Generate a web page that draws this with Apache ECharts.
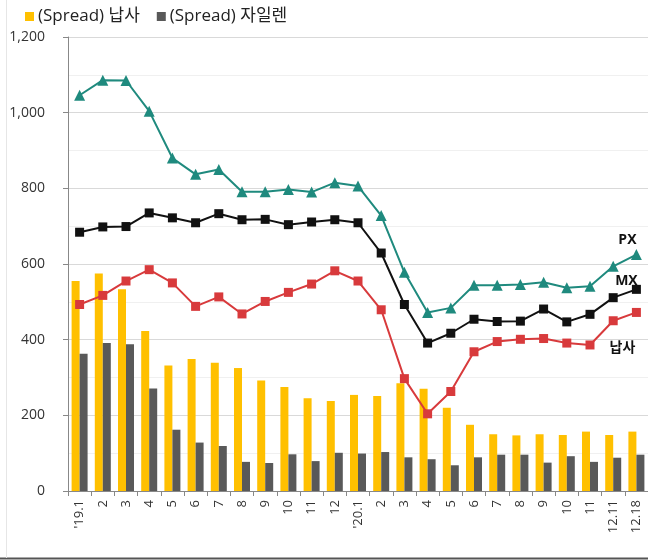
<!DOCTYPE html>
<html>
<head>
<meta charset="utf-8">
<style>html,body{margin:0;padding:0;background:#fff}#c{width:648px;height:560px}</style>
<script src="https://cdn.jsdelivr.net/npm/echarts@6/dist/echarts.min.js"></script>
</head>
<body>
<div id="c"></div>
<script>
const categories = ["'19.1","2","3","4","5","6","7","8","9","10","11","12","'20.1","2","3","4","5","6","7","8","9","10","11","12.11","12.18"];
const spreadNaphtha = [555,575,533,423,332,349,339,325,292,275,245,238,254,251,285,270,220,175,150,147,150,148,157,148,157];
const spreadXylene = [363,391,388,271,162,128,119,77,74,97,79,101,99,103,89,84,68,89,96,96,75,92,77,88,96];
const px = [1046,1086,1085,1004,880,837,850,791,791,797,790,815,806,728,578,472,484,544,544,546,552,537,541,594,625];
const mx = [684,698,699,735,722,709,733,717,718,704,711,717,709,629,493,391,417,454,448,449,481,447,467,511,533];
const naphtha = [493,517,555,585,550,488,513,468,501,525,547,582,555,479,297,204,263,368,395,401,403,391,386,450,472];
const yTicks = [0,200,400,600,800,1000,1200];
const seriesNames = ['(Spread) 납사','(Spread) 자일렌','PX','MX','납사'];

const font = '"Open Sans","Noto Sans CJK KR",sans-serif';
function withEndLabel(arr, text, pos, offset) {
  return arr.map((v, i) => i === arr.length - 1 ? {
    value: v,
    label: {show: true, formatter: text, position: pos, offset: offset,
      fontSize: 14, fontWeight: 'bold', color: '#111', fontFamily: font}
  } : v);
}
const chart = echarts.init(document.getElementById('c'));
chart.setOption({
  animation: false,
  textStyle: {fontFamily: font},
  graphic: [
    {type: 'line', shape: {x1: 0, y1: 558.5, x2: 648, y2: 558.5}, style: {stroke: '#555', lineWidth: 2}, silent: true},
    {type: 'line', shape: {x1: 6.5, y1: 0, x2: 6.5, y2: 558}, style: {stroke: '#e6e6e6', lineWidth: 1}, silent: true}
  ],
  legend: {
    left: 20, top: 3, itemWidth: 9, itemHeight: 9, itemGap: 17,
    icon: 'rect',
    data: [seriesNames[0], seriesNames[1]],
    textStyle: {fontSize: 17, color: '#222', fontFamily: font, padding: [0,0,0,-1]}
  },
  grid: {left: 68, right: -5, top: 37, bottom: 69},
  xAxis: {
    type: 'category', data: categories,
    axisLine: {lineStyle: {color: '#888'}},
    axisTick: {show: true, length: 5, lineStyle: {color: '#888'}},
    axisLabel: {rotate: 90, fontSize: 13, color: '#333', margin: 9, interval: 0}
  },
  yAxis: {
    type: 'value', min: yTicks[0], max: yTicks[yTicks.length-1], interval: 200,
    axisLine: {show: true, lineStyle: {color: '#888'}},
    axisTick: {show: true, length: 5, lineStyle: {color: '#888'}},
    axisLabel: {fontSize: 14, color: '#333', margin: 23,
      formatter: v => v.toLocaleString('en-US')},
    splitLine: {lineStyle: {color: '#d9d9d9'}},
    minorTick: {show: false, splitNumber: 2},
    minorSplitLine: {show: true, lineStyle: {color: '#f0f0f0'}}
  },
  series: [
    {name: seriesNames[0], type: 'bar', data: spreadNaphtha, barWidth: 8, barGap: '0%',
     itemStyle: {color: '#ffc000'}, z: 1},
    {name: seriesNames[1], type: 'bar', data: spreadXylene, barWidth: 8,
     itemStyle: {color: '#595959'}, z: 1},
    {name: seriesNames[2], type: 'line', data: withEndLabel(px, 'PX', 'top', [-9, 3]),
     symbol: 'triangle', symbolSize: 11,
     lineStyle: {color: '#1f8a7e', width: 2}, itemStyle: {color: '#1f8a7e'}, z: 5},
    {name: seriesNames[3], type: 'line', data: withEndLabel(mx, 'MX', 'top', [-10, 8]),
     symbol: 'rect', symbolSize: 9,
     lineStyle: {color: '#111', width: 2}, itemStyle: {color: '#111'}, z: 5},
    {name: seriesNames[4], type: 'line', data: withEndLabel(naphtha, '납사', 'bottom', [-14, 19]),
     symbol: 'rect', symbolSize: 9,
     lineStyle: {color: '#d83a3c', width: 2}, itemStyle: {color: '#d83a3c'}, z: 5}
  ]
});
</script>
</body>
</html>
